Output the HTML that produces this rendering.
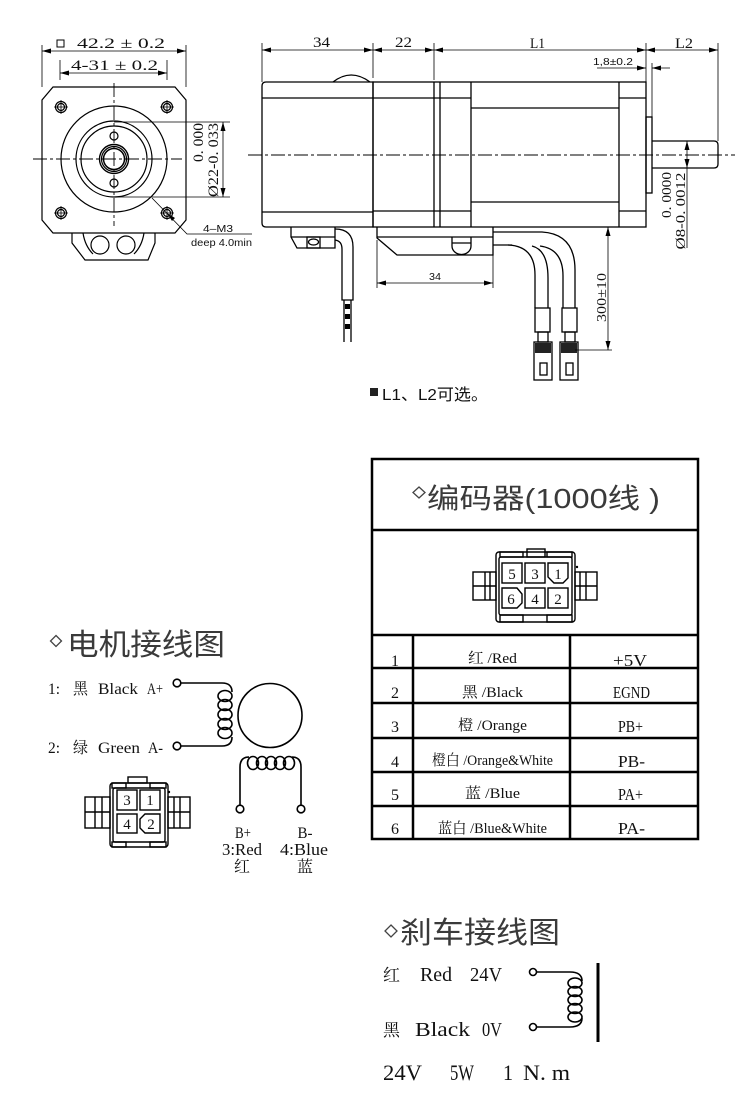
<!DOCTYPE html>
<html><head><meta charset="utf-8">
<style>
html,body{margin:0;padding:0;background:#fff;}
svg{display:block;}
.s{font-family:"Liberation Serif","Noto Serif CJK SC",serif;fill:#111;}
.ss{font-family:"Liberation Sans","Noto Sans CJK SC",sans-serif;fill:#111;}
.t{font-family:"Liberation Sans","Noto Sans CJK SC",sans-serif;fill:#3a3a3a;}
</style></head><body>
<svg width="750" height="1115" viewBox="0 0 750 1115" xmlns="http://www.w3.org/2000/svg">
<rect width="750" height="1115" fill="#fff"/>

<!-- ================= FRONT VIEW ================= -->
<g fill="none" stroke="#000" stroke-width="1.2">
  <path d="M53,87 H175 L186,100 V220 L175,233 H53 L42,220 V100 Z"/>
  <path d="M72,233 V243 L85,260 H148 L155,243 V233"/>
  <path d="M83,233 Q85,246 93,254 M144,233 Q142,246 134,254"/>
  <circle cx="100" cy="245" r="9"/>
  <circle cx="126" cy="245" r="9"/>
  <circle cx="114" cy="159" r="53"/>
  <circle cx="114" cy="159" r="38"/>
  <circle cx="114" cy="159" r="33"/>
  <circle cx="114" cy="159" r="14.5" stroke-width="1.4"/>
  <circle cx="114" cy="159" r="12.5"/>
  <circle cx="114" cy="159" r="10.5" stroke-width="1.5"/>
  <circle cx="114" cy="136" r="4"/>
  <circle cx="114" cy="183" r="4"/>
  <circle cx="61" cy="107" r="5.5"/><circle cx="61" cy="107" r="3.5"/>
  <circle cx="167" cy="107" r="5.5"/><circle cx="167" cy="107" r="3.5"/>
  <circle cx="61" cy="213" r="5.5"/><circle cx="61" cy="213" r="3.5"/>
  <circle cx="167" cy="213" r="5.5"/><circle cx="167" cy="213" r="3.5"/>
</g>
<g fill="none" stroke="#000" stroke-width="0.9" stroke-dasharray="14 3 3 3">
  <path d="M33,159 H182"/>
  <path d="M114,83 V226"/>
</g>
<g fill="none" stroke="#000" stroke-width="0.8">
  <path d="M54,107 H68 M61,100 V114 M160,107 H174 M167,100 V114 M54,213 H68 M61,206 V220 M160,213 H174 M167,206 V220"/>
  <!-- dims -->
  <path d="M42,45 V87 M186,45 V87 M42,51 H186"/>
  <path d="M60,60 V80 M167,60 V80 M60,73 H167"/>
  <path d="M114,122 H230 M114,197 H230 M223,122 V197"/>
  <path d="M152,198 L187,234 H252"/>
</g>
<g fill="#000">
  <polygon points="42,51 51,48.5 51,53.5"/>
  <polygon points="186,51 177,48.5 177,53.5"/>
  <polygon points="60,73 69,70.5 69,75.5"/>
  <polygon points="167,73 158,70.5 158,75.5"/>
  <polygon points="223,122 220.5,131 225.5,131"/>
  <polygon points="223,197 220.5,188 225.5,188"/>
  <polygon points="167,213 172,221 175,218"/>
</g>
<rect x="57" y="40" width="7" height="7" fill="none" stroke="#000" stroke-width="1"/>
<text class="s" x="77" y="48" font-size="15" textLength="88" lengthAdjust="spacingAndGlyphs">42.2 ± 0.2</text>
<text class="s" x="71" y="70" font-size="15" textLength="87" lengthAdjust="spacingAndGlyphs">4-31 ± 0.2</text>
<text class="s" font-size="15" text-anchor="middle" transform="translate(203,142.5) rotate(-90)" textLength="39" lengthAdjust="spacingAndGlyphs">0. 000</text>
<text class="s" font-size="15" text-anchor="middle" transform="translate(218,160) rotate(-90)" textLength="74" lengthAdjust="spacingAndGlyphs">Ø22-0. 033</text>
<text class="ss" x="203" y="232" font-size="10.5" textLength="30" lengthAdjust="spacingAndGlyphs">4–M3</text>
<text class="ss" x="191" y="246" font-size="10.5" textLength="61" lengthAdjust="spacingAndGlyphs">deep 4.0min</text>

<!-- ================= SIDE VIEW ================= -->
<g fill="none" stroke="#000" stroke-width="1.3">
  <path d="M266,82 H373 V227 H266 Q262,227 262,223 V86 Q262,82 266,82 Z"/>
  <path d="M262,98 H373 M262,212 H373"/>
  <path d="M333,82 Q351,68 370,82"/>
  <rect x="373" y="82" width="273" height="145"/>
  <path d="M373,98 H471 M373,211 H471"/>
  <path d="M434,82 V227 M440,82 V227 M471,82 V227 M619,82 V227"/>
  <path d="M471,108 H619 M471,202 H619"/>
  <path d="M619,98 H646 M619,211 H646"/>
  <rect x="646" y="117" width="6" height="76"/>
  <path d="M652,141 H714 Q718,141 718,145 V164 Q718,168 714,168 H652"/>
  <!-- left block & cable -->
  <path d="M291,227 V237 L297,248 H335 V227"/>
  <path d="M291,237 H335"/>
  <rect x="307" y="237" width="13" height="11"/>
  <ellipse cx="313.5" cy="242" rx="5" ry="3"/>
  <path d="M335,229 Q353,229 353,247 V300 H342 V249 Q342,241 335,240"/>
  <path d="M344,300 V342 M351,300 V342"/>
  <!-- encoder block -->
  <path d="M377,227 V238 L397,255 H493 V227"/>
  <path d="M377,237 H493"/>
  <path d="M452,237 V246 A9.5,8.5 0 0 0 471,246 V237"/>
  <path d="M452,243 H471"/>
  <!-- encoder cables -->
  <path d="M493,245 H512"/>
  <path d="M493,232 H542 Q575,234 575,270 V308"/>
  <path d="M508,245 Q535,246 535,275 V308"/>
  <path d="M532,246 Q548,250 548,278 V308"/>
  <path d="M540,246 Q563,249 563,276 V308"/>
  <rect x="535" y="308" width="15" height="24"/>
  <rect x="562" y="308" width="15" height="24"/>
  <rect x="538" y="332" width="10" height="10"/>
  <rect x="565" y="332" width="10" height="10"/>
  <rect x="534" y="342" width="18" height="38"/>
  <rect x="560" y="342" width="18" height="38"/>
  <rect x="540" y="363" width="7" height="12"/>
  <rect x="566" y="363" width="7" height="12"/>
</g>
<g fill="#000">
  <rect x="535" y="343" width="16" height="10" fill="#222"/>
  <rect x="561" y="343" width="16" height="10" fill="#222"/>
  <rect x="345" y="304" width="5" height="5"/>
  <rect x="345" y="314" width="5" height="5"/>
  <rect x="345" y="324" width="5" height="5"/>
</g>
<g fill="none" stroke="#000" stroke-width="0.9" stroke-dasharray="14 3 3 3">
  <path d="M248,155 H735"/>
</g>
<g fill="none" stroke="#000" stroke-width="0.8">
  <path d="M262,50 H718"/>
  <path d="M262,43 V82 M373,43 V78 M434,43 V80 M646,43 V82 M718,43 V141"/>
  <path d="M597,68 H646 M652,68 H670 M652,63 V117"/>
  <path d="M687,141 V248"/>
  <path d="M608,227 V350 M575,350 H612"/>
  <path d="M377,240 V288 M493,255 V288 M377,283 H493"/>
</g>
<g fill="#000">
  <polygon points="262,50 271,47.5 271,52.5"/>
  <polygon points="373,50 364,47.5 364,52.5"/>
  <polygon points="373,50 382,47.5 382,52.5"/>
  <polygon points="434,50 425,47.5 425,52.5"/>
  <polygon points="434,50 443,47.5 443,52.5"/>
  <polygon points="646,50 637,47.5 637,52.5"/>
  <polygon points="646,50 655,47.5 655,52.5"/>
  <polygon points="718,50 709,47.5 709,52.5"/>
  <polygon points="646,68 637,65.5 637,70.5"/>
  <polygon points="652,68 661,65.5 661,70.5"/>
  <polygon points="687,141 684.5,150 689.5,150"/>
  <polygon points="687,168 684.5,159 689.5,159"/>
  <polygon points="608,227 605.5,236 610.5,236"/>
  <polygon points="608,350 605.5,341 610.5,341"/>
  <polygon points="377,283 386,280.5 386,285.5"/>
  <polygon points="493,283 484,280.5 484,285.5"/>
</g>
<text class="s" x="321.5" y="47" font-size="15" text-anchor="middle" textLength="17" lengthAdjust="spacingAndGlyphs">34</text>
<text class="s" x="403.5" y="47" font-size="15" text-anchor="middle" textLength="17" lengthAdjust="spacingAndGlyphs">22</text>
<text class="s" x="537.5" y="48" font-size="15" text-anchor="middle" textLength="15" lengthAdjust="spacingAndGlyphs">L1</text>
<text class="s" x="684" y="48" font-size="15" text-anchor="middle" textLength="18" lengthAdjust="spacingAndGlyphs">L2</text>
<text class="ss" x="593" y="65" font-size="10" textLength="40" lengthAdjust="spacingAndGlyphs">1,8±0.2</text>
<text class="ss" x="435" y="280" font-size="10" text-anchor="middle" textLength="12" lengthAdjust="spacingAndGlyphs">34</text>
<text class="s" font-size="14" text-anchor="middle" transform="translate(671,195) rotate(-90)" textLength="46" lengthAdjust="spacingAndGlyphs">0. 0000</text>
<text class="s" font-size="14" text-anchor="middle" transform="translate(685,211) rotate(-90)" textLength="77" lengthAdjust="spacingAndGlyphs">Ø8-0. 0012</text>
<text class="s" font-size="14" text-anchor="middle" transform="translate(606,297.5) rotate(-90)" textLength="49" lengthAdjust="spacingAndGlyphs">300±10</text>

<rect x="370" y="388" width="8" height="8" fill="#222"/>
<text class="ss" x="382" y="400" font-size="16" textLength="106" lengthAdjust="spacingAndGlyphs">L1、L2可选。</text>

<!-- ================= ENCODER TABLE ================= -->
<g fill="none" stroke="#000" stroke-width="2.5">
  <rect x="372" y="459" width="326" height="380"/>
  <path d="M372,530 H698"/>
  <path d="M372,635 H698"/>
  <path d="M372,668 H698 M372,703 H698 M372,738 H698 M372,772 H698 M372,806 H698"/>
  <path d="M413,635 V839 M570,635 V839"/>
</g>
<polygon points="419,487 425,492.5 419,498 413,492.5" fill="none" stroke="#444" stroke-width="1.3"/>
<text class="t" x="427" y="508" font-size="28" textLength="233" lengthAdjust="spacingAndGlyphs">编码器(1000线 )</text>

<!-- encoder connector -->
<g fill="none" stroke="#000" stroke-width="1.4">
  <rect x="496" y="552" width="79" height="70" rx="3"/>
  <rect x="499" y="557" width="73" height="58" rx="2"/>
  <rect x="527" y="549" width="18" height="8"/>
  <rect x="500" y="552" width="23" height="5"/>
  <rect x="547" y="552" width="25" height="5"/>
  <rect x="500" y="615" width="23" height="7"/>
  <rect x="547" y="615" width="25" height="7"/>
  <rect x="473" y="572" width="23" height="28"/>
  <path d="M485,572 V600 M490,572 V600 M473,586 H496"/>
  <rect x="575" y="572" width="22" height="28"/>
  <path d="M580,572 V600 M586,572 V600 M575,586 H597"/>
  <rect x="502" y="563" width="20" height="20"/>
  <rect x="525" y="563" width="20" height="20"/>
  <path d="M548,563 H568 V578 L563,583 H554 L548,577 Z"/>
  <path d="M502,588 H517 L522,594 V603 L517,608 H502 Z"/>
  <rect x="525" y="588" width="20" height="20"/>
  <rect x="548" y="588" width="20" height="20"/>
</g>
<circle cx="577" cy="567" r="1.2" fill="#000"/>
<g class="s" font-size="15" text-anchor="middle">
  <text x="512" y="579">5</text>
  <text x="535" y="579">3</text>
  <text x="558" y="579">1</text>
  <text x="511" y="604">6</text>
  <text x="535" y="604">4</text>
  <text x="558" y="604">2</text>
</g>

<!-- table rows -->
<g class="s" font-size="16" text-anchor="middle">
  <text x="395" y="666">1</text>
  <text x="395" y="698">2</text>
  <text x="395" y="732">3</text>
  <text x="395" y="767">4</text>
  <text x="395" y="800">5</text>
  <text x="395" y="834">6</text>
</g>
<g class="s" font-size="15" text-anchor="middle">
  <text x="492.5" y="663" textLength="49" lengthAdjust="spacingAndGlyphs">红 /Red</text>
  <text x="492.5" y="697" textLength="61" lengthAdjust="spacingAndGlyphs">黑 /Black</text>
  <text x="492.5" y="730" textLength="69" lengthAdjust="spacingAndGlyphs">橙 /Orange</text>
  <text x="492.5" y="765" textLength="121" lengthAdjust="spacingAndGlyphs">橙白 /Orange&amp;White</text>
  <text x="492.5" y="798" textLength="55" lengthAdjust="spacingAndGlyphs">蓝 /Blue</text>
  <text x="492.5" y="833" textLength="109" lengthAdjust="spacingAndGlyphs">蓝白 /Blue&amp;White</text>
</g>
<g class="s" font-size="17" text-anchor="middle">
  <text x="630" y="666" textLength="34" lengthAdjust="spacingAndGlyphs">+5V</text>
  <text x="631.5" y="698" textLength="37" lengthAdjust="spacingAndGlyphs">EGND</text>
  <text x="630.5" y="732" textLength="25" lengthAdjust="spacingAndGlyphs">PB+</text>
  <text x="631.5" y="767" textLength="27" lengthAdjust="spacingAndGlyphs">PB-</text>
  <text x="630.5" y="800" textLength="25" lengthAdjust="spacingAndGlyphs">PA+</text>
  <text x="631.5" y="834" textLength="27" lengthAdjust="spacingAndGlyphs">PA-</text>
</g>

<!-- ================= MOTOR WIRING ================= -->
<polygon points="56,635.5 61.5,641 56,646.5 50.5,641" fill="none" stroke="#444" stroke-width="1.3"/>
<text class="t" x="67" y="655" font-size="30" textLength="158" lengthAdjust="spacingAndGlyphs">电机接线图</text>

<g class="s" font-size="16">
  <text x="48" y="694" textLength="12" lengthAdjust="spacingAndGlyphs">1:</text>
  <text x="73" y="694" textLength="15" lengthAdjust="spacingAndGlyphs">黑</text>
  <text x="98" y="694" textLength="40" lengthAdjust="spacingAndGlyphs">Black</text>
  <text x="147" y="694" textLength="16" lengthAdjust="spacingAndGlyphs">A+</text>
  <text x="48" y="753" textLength="12" lengthAdjust="spacingAndGlyphs">2:</text>
  <text x="73" y="753" textLength="15" lengthAdjust="spacingAndGlyphs">绿</text>
  <text x="98" y="753" textLength="42" lengthAdjust="spacingAndGlyphs">Green</text>
  <text x="148" y="753" textLength="15" lengthAdjust="spacingAndGlyphs">A-</text>
</g>
<g fill="none" stroke="#000" stroke-width="1.6">
  <circle cx="177" cy="683" r="3.8"/>
  <circle cx="177" cy="746" r="3.8"/>
  <path d="M181,683 H222 Q232,683 232,692"/>
  <path d="M181,746 H222 Q232,746 232,737"/>
  <ellipse cx="225" cy="696" rx="7" ry="5.5"/>
  <ellipse cx="225" cy="705" rx="7" ry="5.5"/>
  <ellipse cx="225" cy="714.5" rx="7" ry="5.5"/>
  <ellipse cx="225" cy="724" rx="7" ry="5.5"/>
  <ellipse cx="225" cy="733" rx="7" ry="5.5"/>
  <circle cx="270" cy="715.5" r="32"/>
  <path d="M240,805 V767 Q240,757 249,757"/>
  <path d="M301,805 V767 Q301,757 292,757"/>
  <ellipse cx="253" cy="763" rx="5.5" ry="6.5"/>
  <ellipse cx="262" cy="763" rx="5.5" ry="6.5"/>
  <ellipse cx="271" cy="763" rx="5.5" ry="6.5"/>
  <ellipse cx="280" cy="763" rx="5.5" ry="6.5"/>
  <ellipse cx="289" cy="763" rx="5.5" ry="6.5"/>
  <circle cx="240" cy="809" r="3.8"/>
  <circle cx="301" cy="809" r="3.8"/>
</g>
<g class="s" text-anchor="middle">
  <text x="243" y="838" font-size="16" textLength="16" lengthAdjust="spacingAndGlyphs">B+</text>
  <text x="242" y="855" font-size="17" textLength="40" lengthAdjust="spacingAndGlyphs">3:Red</text>
  <text x="242" y="872" font-size="16">红</text>
  <text x="305" y="838" font-size="16" textLength="15" lengthAdjust="spacingAndGlyphs">B-</text>
  <text x="304" y="855" font-size="17" textLength="48" lengthAdjust="spacingAndGlyphs">4:Blue</text>
  <text x="305" y="872" font-size="16">蓝</text>
</g>

<!-- motor connector -->
<g fill="none" stroke="#000" stroke-width="1.4">
  <rect x="110" y="783" width="58" height="64" rx="3"/>
  <rect x="113" y="788" width="52" height="54" rx="2"/>
  <rect x="128" y="777" width="19" height="6"/>
  <rect x="112" y="783" width="14" height="5"/>
  <rect x="150" y="783" width="16" height="5"/>
  <rect x="112" y="842" width="14" height="5"/>
  <rect x="150" y="842" width="16" height="5"/>
  <rect x="85" y="797" width="25" height="31"/>
  <path d="M95,797 V828 M102,797 V828 M85,812 H110"/>
  <rect x="168" y="797" width="22" height="31"/>
  <path d="M174,797 V828 M180,797 V828 M168,812 H190"/>
  <rect x="117" y="790" width="20" height="20"/>
  <rect x="140" y="790" width="20" height="20"/>
  <rect x="117" y="814" width="20" height="19"/>
  <path d="M145,814 H160 V833 H145 L140,828 V819 Z"/>
</g>
<circle cx="169" cy="792" r="1.2" fill="#000"/>
<g class="s" font-size="15" text-anchor="middle">
  <text x="127" y="805">3</text>
  <text x="150" y="805">1</text>
  <text x="127" y="829">4</text>
  <text x="151" y="829">2</text>
</g>

<!-- ================= BRAKE WIRING ================= -->
<polygon points="391,925 397,931 391,937 385,931" fill="none" stroke="#444" stroke-width="1.3"/>
<text class="t" x="400" y="943" font-size="30" textLength="160" lengthAdjust="spacingAndGlyphs">刹车接线图</text>

<g class="s" font-size="20">
  <text x="383" y="981" font-size="17" textLength="17" lengthAdjust="spacingAndGlyphs">红</text>
  <text x="420" y="981" textLength="32" lengthAdjust="spacingAndGlyphs">Red</text>
  <text x="470" y="981" textLength="32" lengthAdjust="spacingAndGlyphs">24V</text>
  <text x="383" y="1036" font-size="17" textLength="17" lengthAdjust="spacingAndGlyphs">黑</text>
  <text x="415" y="1036" textLength="55" lengthAdjust="spacingAndGlyphs">Black</text>
  <text x="482" y="1036" textLength="20" lengthAdjust="spacingAndGlyphs">0V</text>
</g>
<g class="s" font-size="22">
  <text x="383" y="1080" textLength="39" lengthAdjust="spacingAndGlyphs">24V</text>
  <text x="450" y="1080" textLength="24" lengthAdjust="spacingAndGlyphs">5W</text>
  <text x="503" y="1080" textLength="10" lengthAdjust="spacingAndGlyphs">1</text>
  <text x="523" y="1080" textLength="47" lengthAdjust="spacingAndGlyphs">N. m</text>
</g>
<g fill="none" stroke="#000" stroke-width="1.6">
  <circle cx="533" cy="972" r="3.5"/>
  <circle cx="533" cy="1027" r="3.5"/>
  <path d="M537,972 H570 Q582,972 582,981"/>
  <path d="M537,1027 H570 Q582,1027 582,1018"/>
  <ellipse cx="575" cy="983" rx="7" ry="5"/>
  <ellipse cx="575" cy="991.5" rx="7" ry="5"/>
  <ellipse cx="575" cy="1000" rx="7" ry="5"/>
  <ellipse cx="575" cy="1008.5" rx="7" ry="5"/>
  <ellipse cx="575" cy="1017" rx="7" ry="5"/>
  <path d="M598,963 V1042" stroke-width="3"/>
</g>
</svg>
</body></html>
